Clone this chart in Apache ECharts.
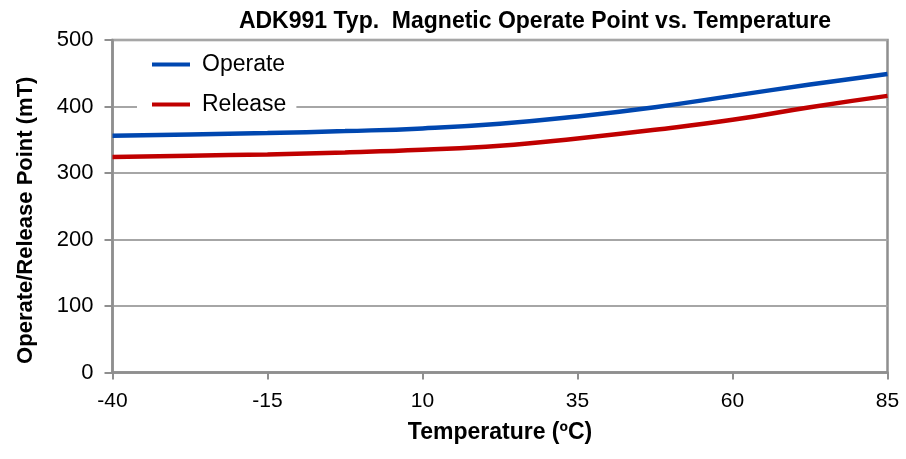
<!DOCTYPE html>
<html>
<head>
<meta charset="utf-8">
<script src="https://cdn.jsdelivr.net/npm/echarts@6/dist/echarts.min.js"></script>
<style>html,body{margin:0;padding:0;background:#fff;}#c{width:906px;height:459px;}</style>
</head>
<body>
<div id="c"></div>
<script>
const temps = [-40, -27.5, -15, -2.5, 10, 22.5, 35, 47.5, 60, 72.5, 85];
const operate = [356, 358, 360, 363, 367, 374, 385, 399, 416, 433, 449];
const release = [324, 326, 328, 331, 335, 341, 352, 365, 380, 399, 416];
const xTicks = [-40, -15, 10, 35, 60, 85];

const font = 'Liberation Sans, Arial, sans-serif';
const chart = echarts.init(document.getElementById('c'));
chart.setOption({
  animation: false,
  title: {
    text: 'ADK991 Typ.  Magnetic Operate Point vs. Temperature',
    left: 530, top: 5, textAlign: 'center',
    textStyle: {fontFamily: font, fontSize: 23, fontWeight: 'bold', color: '#000'}
  },
  legend: {
    left: 137, top: 49, orient: 'vertical', itemGap: 17,
    backgroundColor: '#fff', padding: [4, 10, 4, 15],
    itemWidth: 38, itemHeight: 4, icon: 'rect',
    textStyle: {fontFamily: font, fontSize: 23, color: '#000', padding: [0, 0, 0, 7]},
    data: ['Operate', 'Release']
  },
  grid: {left: 112.5, right: 18.5, top: 40, bottom: 86.5, show: true, borderColor: '#8f8f8f', borderWidth: 2.5, backgroundColor: 'transparent'},
  xAxis: {
    type: 'value', min: -40, max: 85,
    name: 'Temperature (ºC)', nameLocation: 'middle', nameGap: 49,
    nameTextStyle: {fontFamily: font, fontSize: 23, fontWeight: 'bold', color: '#000'},
    axisLine: {show: true, onZero: false, lineStyle: {color: '#8f8f8f', width: 2.5}},
    axisTick: {show: true, customValues: xTicks, length: 7, lineStyle: {color: '#8f8f8f', width: 2}},
    axisLabel: {customValues: xTicks, fontFamily: font, fontSize: 21, color: '#000', margin: 18},
    splitLine: {show: false}
  },
  yAxis: {
    type: 'value', min: 0, max: 500, interval: 100,
    name: 'Operate/Release Point (mT)', nameLocation: 'middle', nameGap: 76,
    nameTextStyle: {fontFamily: font, fontSize: 22, fontWeight: 'bold', color: '#000', padding: [0, 28, 0, 0]},
    axisLine: {show: true, onZero: false, lineStyle: {color: '#8f8f8f', width: 2.5}},
    axisTick: {show: true, length: 8, lineStyle: {color: '#8f8f8f', width: 2}},
    axisLabel: {fontFamily: font, fontSize: 22, color: '#000', margin: 19},
    splitLine: {show: true, lineStyle: {color: '#a6a6a6', width: 2}}
  },
  series: [
    {name: 'Operate', type: 'line', smooth: true, showSymbol: false, z: 2,
     data: temps.map((t, i) => [t, operate[i]]),
     lineStyle: {color: '#0047b0', width: 4.5}, itemStyle: {color: '#0047b0'}},
    {name: 'Release', type: 'line', smooth: true, showSymbol: false, z: 2,
     data: temps.map((t, i) => [t, release[i]]),
     lineStyle: {color: '#c00000', width: 4.5}, itemStyle: {color: '#c00000'}}
  ]
});
</script>
</body>
</html>
